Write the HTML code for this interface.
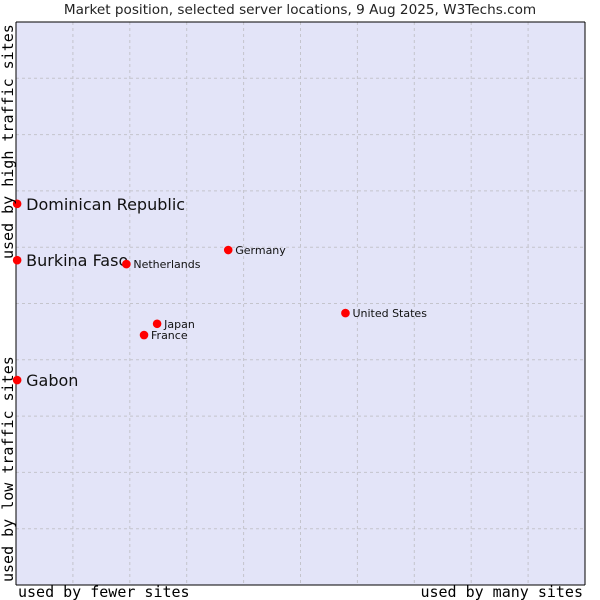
<!DOCTYPE html>
<html><head><meta charset="utf-8"><style>
html,body{margin:0;padding:0;background:#fff;width:600px;height:600px;overflow:hidden}
svg{display:block}
</style></head><body>
<svg id="chart" width="600" height="600">
<rect x="0" y="0" width="600" height="600" fill="#fff"/>
<text x="300" y="14" text-anchor="middle" font-family="DejaVu Sans, sans-serif" font-size="13.6" fill="#222">Market position, selected server locations, 9 Aug 2025, W3Techs.com</text>
<rect x="16" y="22" width="569" height="563" fill="#e3e4f8"/>
<g id="grid"></g>
<line x1="16" y1="22" x2="16" y2="585" stroke="#000"/>
<line x1="16" y1="585" x2="585" y2="585" stroke="#000"/>
<line x1="585" y1="22" x2="585" y2="585" stroke="#000"/>
<line x1="16" y1="22" x2="585" y2="22" stroke="#000"/>
<g id="points"></g>
<text x="18" y="597" font-family="DejaVu Sans Mono, monospace" font-size="15" fill="#000">used by fewer sites</text>
<text x="583" y="597" text-anchor="end" font-family="DejaVu Sans Mono, monospace" font-size="15" fill="#000">used by many sites</text>
<text transform="translate(13,582) rotate(-90)" font-family="DejaVu Sans Mono, monospace" font-size="15" fill="#000">used by low traffic sites</text>
<text transform="translate(13,259) rotate(-90)" font-family="DejaVu Sans Mono, monospace" font-size="15" fill="#000">used by high traffic sites</text>
</svg>
<script>
const countries = ["Dominican Republic","Burkina Faso","Gabon","Netherlands","Germany","United States","Japan","France"];
const xValues = [0.2,0.2,0.2,19.4,37.3,57.9,24.8,22.5];
const yValues = [67.7,57.7,36.4,57.0,59.5,48.3,46.4,44.4];
const bigLabel = [true,true,true,false,false,false,false,false];
const X0=16,X1=585,Y0=585,Y1=22;
function sx(v){return X0+(X1-X0)*v/100;}
function sy(v){return Y0-(Y0-Y1)*v/100;}
const NS="http://www.w3.org/2000/svg";
const grid=document.getElementById('grid');
for(let i=1;i<10;i++){
  const l=document.createElementNS(NS,'line');
  l.setAttribute('x1',sx(i*10));l.setAttribute('x2',sx(i*10));l.setAttribute('y1',Y1);l.setAttribute('y2',Y0);
  l.setAttribute('stroke','#c4c4cc');l.setAttribute('stroke-dasharray','3,3');
  
  
  grid.appendChild(l);
  const h=document.createElementNS(NS,'line');
  h.setAttribute('y1',sy(i*10));h.setAttribute('y2',sy(i*10));h.setAttribute('x1',X0);h.setAttribute('x2',X1);
  h.setAttribute('stroke','#c4c4cc');h.setAttribute('stroke-dasharray','3,3');
  
  
  grid.appendChild(h);
}
const pts=document.getElementById('points');
countries.forEach((c,i)=>{
  const x=sx(xValues[i]),y=sy(yValues[i]);
  const p=document.createElementNS(NS,'circle');
  p.setAttribute('cx',x);p.setAttribute('cy',y);p.setAttribute('r',4.3);
  p.setAttribute('fill','#f00');
  
  
  pts.appendChild(p);
  const t=document.createElementNS(NS,'text');
  t.textContent=c;
  t.setAttribute('font-family','DejaVu Sans, sans-serif');
  if(bigLabel[i]){t.setAttribute('x',x+9);t.setAttribute('y',y+6);t.setAttribute('font-size','16');}
  else{t.setAttribute('x',x+7);t.setAttribute('y',y+4);t.setAttribute('font-size','11');}
  t.setAttribute('fill','#111');
  
  
  pts.appendChild(t);
});
</script>
</body></html>
